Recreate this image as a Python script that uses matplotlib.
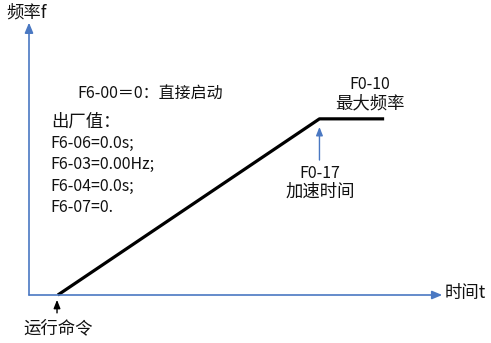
import matplotlib.pyplot as plt

plt.rcParams['font.family'] = ['Noto Sans CJK SC', 'DejaVu Sans']

# frequency curve: start command, end of acceleration, end of plot
time_pts = [0.7, 7.05, 8.62]
freq_pts = [0.0, 6.5, 6.5]

param_lines = ['出厂值：', 'F6-06=0.0s;', 'F6-03=0.00Hz;', 'F6-04=0.0s;', 'F6-07=0.']

axis_blue = '#4A78C2'
fs_cn = 12.5   # chinese labels
fs_en = 11.5   # parameter codes

fig = plt.figure(figsize=(4.91, 3.43), dpi=100)
W, H = 491, 343
# axes origin at pixel (29, 295), top-right at (441, 24)
ax = fig.add_axes([29 / W, (H - 295) / H, (441 - 29) / W, (295 - 24) / H])
ax.set_xlim(0, 10)
ax.set_ylim(0, 10)
ax.axis('off')

# axes with arrows
ax.annotate('', xy=(10.03, 0), xytext=(0, 0),
            arrowprops=dict(arrowstyle='-|>,head_length=0.6,head_width=0.25',
                            color=axis_blue, lw=1.2, shrinkA=0, shrinkB=0),
            annotation_clip=False)
ax.annotate('', xy=(0, 10.05), xytext=(0, 0),
            arrowprops=dict(arrowstyle='-|>,head_length=0.6,head_width=0.25',
                            color=axis_blue, lw=1.2, shrinkA=0, shrinkB=0),
            annotation_clip=False)

ax.plot(time_pts, freq_pts, color='black', lw=2.3, solid_capstyle='butt', clip_on=False)

# run command arrow
ax.annotate('', xy=(time_pts[0] - 0.02, -0.18), xytext=(time_pts[0] - 0.02, -0.66),
            arrowprops=dict(arrowstyle='-|>,head_length=0.5,head_width=0.2',
                            color='black', lw=1.0, shrinkA=0, shrinkB=0),
            annotation_clip=False)
# accel time arrow
ax.annotate('', xy=(time_pts[1], 6.2), xytext=(time_pts[1], 4.98),
            arrowprops=dict(arrowstyle='-|>,head_length=0.5,head_width=0.2',
                            color=axis_blue, lw=1.0, shrinkA=0, shrinkB=0),
            annotation_clip=False)

kw = dict(color='#111111', clip_on=False)
ax.text(-0.55, 10.44, '频率f', ha='left', va='center', fontsize=fs_cn, **kw)
ax.text(10.1, 0.07, '时间t', ha='left', va='center', fontsize=fs_cn, **kw)
ax.text(0.7, -1.24, '运行命令', ha='center', va='center', fontsize=fs_cn, **kw)
ax.text(1.17, 7.45, 'F6-00＝0：直接启动', ha='left', va='center', fontsize=fs_en, **kw)
for i, line in enumerate(param_lines):
    size = fs_cn if i == 0 else fs_en
    ax.text(0.53, 6.38 - i * 0.79, line, ha='left', va='center', fontsize=size, **kw)
ax.text(8.28, 7.76, 'F0-10', ha='center', va='center', fontsize=fs_en, **kw)
ax.text(8.28, 7.08, '最大频率', ha='center', va='center', fontsize=fs_cn, **kw)
ax.text(7.06, 4.50, 'F0-17', ha='center', va='center', fontsize=fs_en, **kw)
ax.text(7.06, 3.82, '加速时间', ha='center', va='center', fontsize=fs_cn, **kw)

fig.savefig('out.png', dpi=100, facecolor='white')
